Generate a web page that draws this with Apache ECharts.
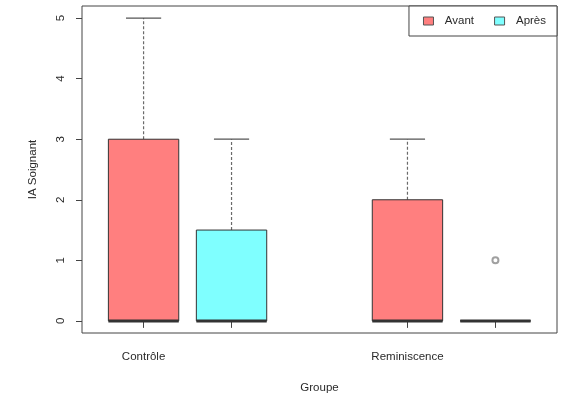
<!DOCTYPE html>
<html>
<head>
<meta charset="utf-8">
<script src="https://cdn.jsdelivr.net/npm/echarts@6/dist/echarts.min.js"></script>
<style>
  html, body { margin: 0; padding: 0; background: #fff; }
  #chart { width: 561px; height: 394px; }
</style>
</head>
<body>
<div id="chart"></div>
<script>
// Groups on the x axis and where each box sits
const groupNames = ['Contrôle', 'Reminiscence'];
const groupLabelPositions = [1, 4];
const avantPositions = [1, 4];
const apresPositions = [2, 5];
const boxTickPositions = [1, 2, 4, 5];

// Five-number summaries: [min, Q1, median, Q3, max]
const avantStats = [[0, 0, 0, 3, 5], [0, 0, 0, 2, 3]];
const apresStats = [[0, 0, 0, 1.5, 3], [0, 0, 0, 0, 0]];

// Outliers as [position, value]
const apresOutliers = [[5, 1]];

const yTicks = [0, 1, 2, 3, 4, 5];

const FONT = 'Liberation Sans, Arial, sans-serif';
const TEXT = '#2a2a2a';
const RED = '#ff7f7f';
const CYAN = '#7fffff';
const BOX_WIDTH = 0.8;

function boxData(positions, stats) {
  return positions.map((p, i) => [p].concat(stats[i]));
}

function renderBox(params, api) {
  const x = api.value(0);
  const vMin = api.value(1), q1 = api.value(2), med = api.value(3), q3 = api.value(4), vMax = api.value(5);
  const c = (v) => api.coord([x, v]);
  const left = api.coord([x - BOX_WIDTH / 2, 0])[0];
  const right = api.coord([x + BOX_WIDTH / 2, 0])[0];
  const sLeft = api.coord([x - BOX_WIDTH / 4, 0])[0];
  const sRight = api.coord([x + BOX_WIDTH / 4, 0])[0];
  const cx = c(med)[0];
  const yMin = c(vMin)[1], yQ1 = c(q1)[1], yMed = c(med)[1], yQ3 = c(q3)[1], yMax = c(vMax)[1];
  const fill = api.visual('color');
  const whisker = { stroke: '#6a6a6a', lineWidth: 1.2, lineDash: [3, 2] };
  const staple = { stroke: '#555', lineWidth: 1.2 };
  return {
    type: 'group',
    children: [
      { type: 'line', shape: { x1: cx, y1: yQ3, x2: cx, y2: yMax }, style: whisker },
      { type: 'line', shape: { x1: cx, y1: yQ1, x2: cx, y2: yMin }, style: whisker },
      { type: 'line', shape: { x1: sLeft, y1: yMax, x2: sRight, y2: yMax }, style: staple },
      { type: 'line', shape: { x1: sLeft, y1: yMin, x2: sRight, y2: yMin }, style: staple },
      { type: 'rect', shape: { x: left, y: yQ3, width: right - left, height: yQ1 - yQ3 },
        style: { fill: fill, stroke: '#333', lineWidth: 1 } },
      { type: 'line', shape: { x1: left, y1: yMed, x2: right, y2: yMed },
        style: { stroke: '#333', lineWidth: 3 } }
    ]
  };
}

const chart = echarts.init(document.getElementById('chart'), null, { renderer: 'canvas' });

chart.setOption({
  animation: false,
  backgroundColor: '#fff',
  textStyle: { fontFamily: FONT, color: TEXT },
  grid: {
    left: 82, right: 4, top: 6, bottom: 61,
    containLabel: false,
    outerBoundsMode: 'none',
    show: true, borderColor: '#444', borderWidth: 1, backgroundColor: 'transparent'
  },
  legend: {
    right: 4, top: 6,
    padding: [9, 11, 9, 14],
    borderColor: '#444', borderWidth: 1,
    backgroundColor: '#fff',
    itemWidth: 10, itemHeight: 8, itemGap: 20,
    icon: 'rect',
    textStyle: { fontFamily: FONT, fontSize: 11.5, color: TEXT },
    formatter: (name) => '  ' + name,
    data: [
      { name: 'Avant', itemStyle: { color: RED, borderColor: '#555', borderWidth: 1 } },
      { name: 'Après', itemStyle: { color: CYAN, borderColor: '#555', borderWidth: 1 } }
    ]
  },
  xAxis: {
    type: 'value',
    min: 0.3, max: 5.7,
    splitLine: { show: false },
    axisLine: { show: false },
    axisTick: { show: true, length: 7, customValues: boxTickPositions, lineStyle: { color: '#444' } },
    axisLabel: {
      customValues: groupLabelPositions,
      margin: 18,
      fontSize: 11.5, color: TEXT, fontFamily: FONT,
      formatter: (v) => groupNames[groupLabelPositions.indexOf(v)] || ''
    },
    name: 'Groupe',
    nameLocation: 'middle',
    nameGap: 49,
    nameTextStyle: { fontSize: 11.5, color: TEXT, fontFamily: FONT }
  },
  yAxis: {
    type: 'value',
    min: -0.2, max: 5.2,
    splitLine: { show: false },
    axisLine: { show: false },
    axisTick: { show: true, length: 6, customValues: yTicks, lineStyle: { color: '#444' } },
    axisLabel: {
      customValues: yTicks,
      rotate: 90,
      margin: 15,
      fontSize: 11.5, color: TEXT, fontFamily: FONT
    },
    name: 'IA Soignant',
    nameLocation: 'middle',
    nameRotate: 90,
    nameGap: 43,
    nameTextStyle: { fontSize: 11.5, color: TEXT, fontFamily: FONT }
  },
  series: [
    {
      name: 'Avant', type: 'custom', color: RED,
      renderItem: renderBox,
      encode: { x: 0, y: [1, 2, 3, 4, 5] },
      data: boxData(avantPositions, avantStats),
      z: 2
    },
    {
      name: 'Après', type: 'custom', color: CYAN,
      renderItem: renderBox,
      encode: { x: 0, y: [1, 2, 3, 4, 5] },
      data: boxData(apresPositions, apresStats),
      z: 2
    },
    {
      name: 'outliers', type: 'scatter',
      symbol: 'emptyCircle', symbolSize: 6,
      itemStyle: { color: '#888', borderColor: '#888', borderWidth: 1 },
      data: apresOutliers,
      z: 3
    }
  ]
});
</script>
</body>
</html>
